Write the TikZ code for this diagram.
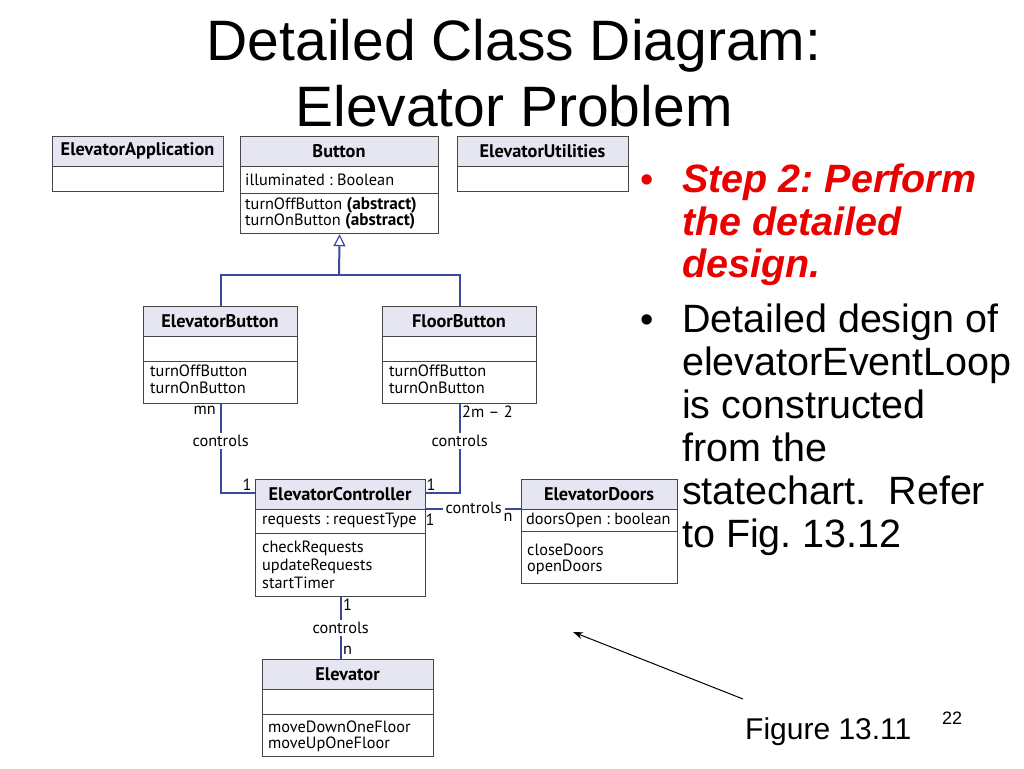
\documentclass[tikz,border=0pt]{standalone}
\usepackage{fontspec}
\setmainfont{Liberation Sans}
\newfontfamily\umlfont{PT Sans}
\usetikzlibrary{arrows.meta,calc}
\frenchspacing
\definecolor{hdrfill}{RGB}{230,230,243}
\definecolor{lnk}{RGB}{60,72,160}
\definecolor{boxline}{RGB}{70,70,70}
\definecolor{stepred}{RGB}{235,0,0}
\newcommand\umlclass[8]{%
  \fill[hdrfill] (#2,#3) rectangle (#4,#6);
  \draw[septline] (#2,#6) -- (#4,#6);
  \draw[septline] (#2,#7) -- (#4,#7);
  \node[umlframe, minimum width={(#4-#2)*1pt}, minimum height={(#5-#3)*1pt}] (#1) at (#2,#3) {};
  \node[hdrtext] (#1-t) at ({(#2+#4)/2},{(#3+#6)/2}) {#8};
}
\newcommand\umlbold[1]{{\bfseries\fontsize{17.2}{18}\selectfont #1}}
\begin{document}
\begin{tikzpicture}[x=1pt,y=-1pt,
  umlframe/.style={draw=boxline, line width=1.2pt, inner sep=0pt, anchor=north west},
  septline/.style={draw=boxline, line width=1pt},
  hdrtext/.style={font=\umlfont\bfseries\fontsize{18.3}{20}\selectfont, inner sep=0pt},
  umltext/.style={font=\umlfont\fontsize{16.3}{18}\selectfont, inner sep=0pt, anchor=west},
  mult/.style={font=\umlfont\fontsize{16.3}{18}\selectfont, inner sep=1pt},
  lbl/.style={font=\umlfont\fontsize{16.3}{18}\selectfont, fill=white, inner sep=2pt},
  assoc/.style={draw=lnk, line width=2pt},
  titletext/.style={font=\fontsize{57}{64}\selectfont, inner sep=0pt, anchor=base},
  redtext/.style={font=\fontsize{39.5}{43}\selectfont\bfseries\itshape, text=stepred, inner sep=0pt, anchor=base west},
  bodytext/.style={font=\fontsize{39.5}{43}\selectfont, inner sep=0pt, anchor=base west},
  bulletmark/.style={font=\fontsize{38}{43}\selectfont, inner sep=0pt, anchor=base west}
]
\useasboundingbox[fill=white] (0,0) rectangle (1024,768);

% title
\node[titletext] (t1) at (514,60) {Detailed Class Diagram:};
\node[titletext] (t2) at (514,126) {Elevator Problem};

% classes
\umlclass{app}{52}{136}{223}{191}{166}{191}{ElevatorApplication}
\umlclass{btn}{240}{136}{438}{233}{166}{193}{Button}
\umlclass{util}{457}{136}{628}{191}{166}{191}{ElevatorUtilities}
\umlclass{eb}{143}{306}{297}{403}{336}{361}{ElevatorButton}
\umlclass{fb}{382}{306}{536}{403}{336}{361}{FloorButton}
\umlclass{ctrl}{255}{479}{425}{596}{509}{533}{ElevatorController}
\umlclass{doors}{521}{479}{677}{583}{509}{531}{ElevatorDoors}
\umlclass{elev}{262}{659}{433}{756}{689}{714}{Elevator}

% class contents
\node[umltext] (btn-a) at (245,180) {illuminated : Boolean};
\node[umltext] (btn-m1) at (245,205) {turnOffButton \umlbold{(abstract)}};
\node[umltext] (btn-m2) at (245,221) {turnOnButton \umlbold{(abstract)}};
\node[umltext] (eb-m1) at (150,371) {turnOffButton};
\node[umltext] (eb-m2) at (150,388) {turnOnButton};
\node[umltext] (fb-m1) at (389,371) {turnOffButton};
\node[umltext] (fb-m2) at (389,388) {turnOnButton};
\node[umltext] (ctrl-a) at (262,520) {requests : requestType};
\node[umltext] (ctrl-m1) at (262,548) {checkRequests};
\node[umltext] (ctrl-m2) at (262,566) {updateRequests};
\node[umltext] (ctrl-m3) at (262,583) {startTimer};
\node[umltext] (doors-a) at (526,520) {doorsOpen : boolean};
\node[umltext] (doors-m1) at (527,550) {closeDoors};
\node[umltext] (doors-m2) at (527,567) {openDoors};
\node[umltext] (elev-m1) at (268,727) {moveDownOneFloor};
\node[umltext] (elev-m2) at (268,744) {moveUpOneFloor};

% generalization
\coordinate (jn) at (339,275);
\draw[assoc] (eb.north) |- (jn) -| (fb.north);
\draw[assoc, -{Triangle[open, length=12pt, width=12pt, fill=white, line width=1.2pt]}] (jn) -- (btn.south);

% associations
\draw[assoc] (eb.south) |- node[pos=0.206, lbl] (c1) {controls} ([yshift=-14pt]ctrl.north west);
\draw[assoc] (fb.south) |- node[pos=0.206, lbl] (c2) {controls} ([yshift=-14pt]ctrl.north east);
\draw[assoc] ([yshift=-30pt]ctrl.north east) -- node[lbl, inner ysep=1pt, inner xsep=3pt, yshift=1pt] (c3) {controls} ([yshift=-30pt]doors.north west);
\draw[assoc] (ctrl.south) -- node[lbl] (c4) {controls} (ctrl.south |- elev.north);

% multiplicities
\node[mult, anchor=east] (m1) at (217,410) {mn};
\node[mult] (m2) at (247,485) {1};
\node[mult, anchor=west] (m3) at (461,412) {2m – 2};
\node[mult] (m4) at (431,485) {1};
\node[mult] (m5) at (430,520) {1};
\node[mult] (m6) at (508,517) {n};
\node[mult, anchor=west] (m7) at (342,605) {1};
\node[mult, anchor=west] (m8) at (342,650) {n};

% bullets
\node[bulletmark, text=stepred] (b1) at (640,192) {\textbullet};
\node[redtext] (r1) at (682,192) {Step 2: Perform};
\node[redtext] (r2) at (682,235) {the detailed};
\node[redtext] (r3) at (682,277) {design.};
\node[bulletmark] (b2) at (640,332) {\textbullet};
\node[bodytext] (l1) at (682,332) {Detailed design of};
\node[bodytext] (l2) at (682,375) {elevatorEventLoop};
\node[bodytext] (l3) at (682,418) {is constructed};
\node[bodytext] (l4) at (682,461) {from the};
\node[bodytext] (l5) at (682,504) {statechart.\ \ Refer};
\node[bodytext] (l6) at (682,547) {to Fig. 13.12};

% figure caption and arrow
\node[font=\fontsize{30}{34}\selectfont, inner sep=0pt, anchor=base west] (fig) at (745,739) {Figure 13.11};
\node[font=\fontsize{18}{20}\selectfont, inner sep=0pt, anchor=base west] (pg) at (942,724) {22};
\coordinate (atail) at (743,699);
\coordinate (ahead) at (573,632);
\draw[line width=1pt, -{Stealth[length=10pt, width=7pt]}] (atail) -- (ahead);
\end{tikzpicture}
\end{document}
